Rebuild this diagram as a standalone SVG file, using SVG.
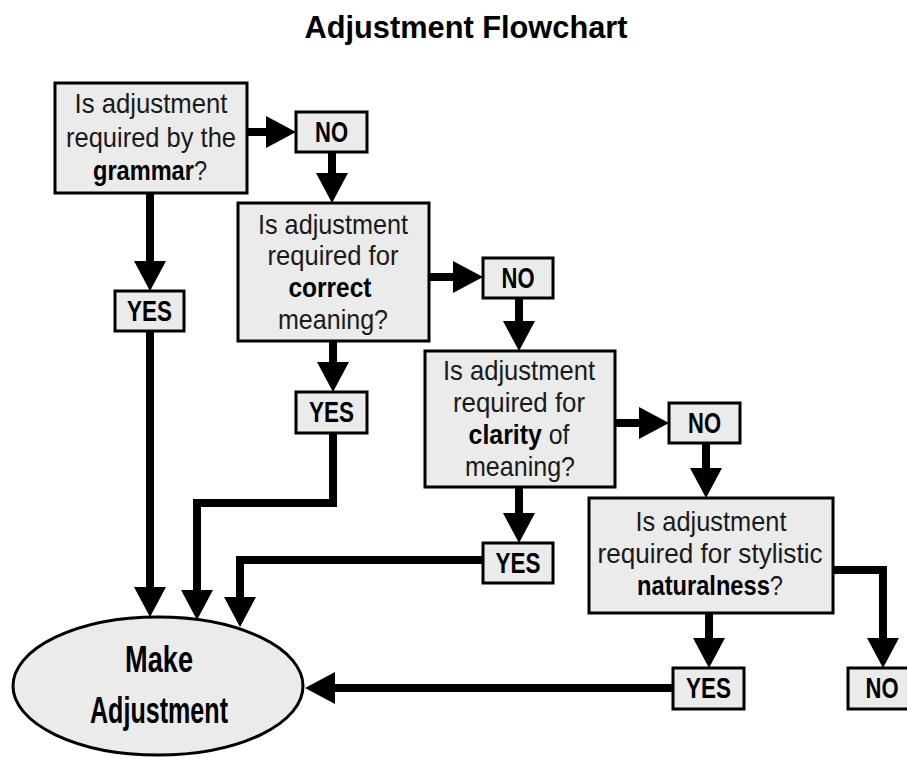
<svg xmlns="http://www.w3.org/2000/svg" width="907" height="758" viewBox="0 0 907 758">
<style>
.box{fill:#ebebeb;stroke:#000;stroke-width:3}
.t{font-family:"Liberation Sans",Arial,sans-serif;font-size:28px;fill:#1a1a1a;text-anchor:middle}
.b{font-weight:bold;fill:#000}
.lbl{font-family:"Liberation Sans",Arial,sans-serif;font-size:29px;font-weight:bold;fill:#000;text-anchor:middle}
.title{font-family:"Liberation Sans",Arial,sans-serif;font-size:31px;font-weight:bold;fill:#000;text-anchor:middle}
.big{font-family:"Liberation Sans",Arial,sans-serif;font-size:37px;font-weight:bold;fill:#000;text-anchor:middle}
.c{fill:none;stroke:#000;stroke-width:8;stroke-linejoin:miter;stroke-linecap:butt;marker-end:url(#ah)}
</style>
<defs>
<marker id="ah" markerUnits="userSpaceOnUse" markerWidth="30" markerHeight="32" refX="4" refY="16" orient="auto" overflow="visible">
<path d="M0,0 L30,16 L0,32 Z" fill="#000"/>
</marker>
</defs>
<rect width="907" height="758" fill="#fff"/>
<text class="title" x="466" y="38" textLength="323" lengthAdjust="spacingAndGlyphs">Adjustment Flowchart</text>

<g id="connectors">
<path class="c" d="M247,132 H270"/>
<path class="c" d="M332,152 V177"/>
<path class="c" d="M150,193 V265"/>
<path class="c" d="M150,331 V591"/>
<path class="c" d="M429,277 H457"/>
<path class="c" d="M333,341 V366"/>
<path class="c" d="M333,433 V503 H197 V594"/>
<path class="c" d="M519,298 V325"/>
<path class="c" d="M615,423 H643"/>
<path class="c" d="M519,487 V517"/>
<path class="c" d="M483,560 H240 V601"/>
<path class="c" d="M706,443 V472"/>
<path class="c" d="M709,613 V642"/>
<path class="c" d="M833,570 H883 V642"/>
<path class="c" d="M673,688 H331"/>
</g>

<g id="q1">
<rect class="box" x="55" y="83" width="192" height="110"/>
<text class="t" x="151" y="113" textLength="153" lengthAdjust="spacingAndGlyphs">Is adjustment</text>
<text class="t" x="151" y="147" textLength="170" lengthAdjust="spacingAndGlyphs">required by the</text>
<text class="t" transform="translate(150,180) scale(0.842,1)"><tspan class="b">grammar</tspan>?</text>
</g>
<g id="no1">
<rect class="box" x="296" y="112" width="71" height="40"/>
<text class="lbl" x="331.5" y="142" textLength="33" lengthAdjust="spacingAndGlyphs">NO</text>
</g>
<g id="yes1">
<rect class="box" x="115" y="291" width="69" height="40"/>
<text class="lbl" x="149.5" y="321" textLength="45" lengthAdjust="spacingAndGlyphs">YES</text>
</g>

<g id="q2">
<rect class="box" x="238" y="203" width="191" height="138"/>
<text class="t" x="333" y="234" textLength="150" lengthAdjust="spacingAndGlyphs">Is adjustment</text>
<text class="t" x="333" y="265" textLength="131" lengthAdjust="spacingAndGlyphs">required for</text>
<text class="t b" x="330" y="297" textLength="83" lengthAdjust="spacingAndGlyphs">correct</text>
<text class="t" x="333" y="329" textLength="110" lengthAdjust="spacingAndGlyphs">meaning?</text>
</g>
<g id="no2">
<rect class="box" x="483" y="258" width="70" height="40"/>
<text class="lbl" x="518" y="288" textLength="33" lengthAdjust="spacingAndGlyphs">NO</text>
</g>
<g id="yes2">
<rect class="box" x="296" y="392" width="71" height="41"/>
<text class="lbl" x="331.5" y="422" textLength="45" lengthAdjust="spacingAndGlyphs">YES</text>
</g>

<g id="q3">
<rect class="box" x="425" y="351" width="190" height="136"/>
<text class="t" x="519" y="380" textLength="152" lengthAdjust="spacingAndGlyphs">Is adjustment</text>
<text class="t" x="519" y="412" textLength="132" lengthAdjust="spacingAndGlyphs">required for</text>
<text class="t" transform="translate(519,444) scale(0.887,1)"><tspan class="b">clarity</tspan> of</text>
<text class="t" x="520" y="476" textLength="110" lengthAdjust="spacingAndGlyphs">meaning?</text>
</g>
<g id="no3">
<rect class="box" x="669" y="403" width="71" height="40"/>
<text class="lbl" x="704.5" y="433" textLength="33" lengthAdjust="spacingAndGlyphs">NO</text>
</g>
<g id="yes3">
<rect class="box" x="483" y="543" width="70" height="40"/>
<text class="lbl" x="518" y="573" textLength="45" lengthAdjust="spacingAndGlyphs">YES</text>
</g>

<g id="q4">
<rect class="box" x="589" y="498" width="244" height="115"/>
<text class="t" x="711" y="531" textLength="151" lengthAdjust="spacingAndGlyphs">Is adjustment</text>
<text class="t" x="710" y="563" textLength="225" lengthAdjust="spacingAndGlyphs">required for stylistic</text>
<text class="t" transform="translate(710,595) scale(0.845,1)"><tspan class="b">naturalness</tspan>?</text>
</g>
<g id="yes4">
<rect class="box" x="673" y="668" width="71" height="41"/>
<text class="lbl" x="708.5" y="698" textLength="45" lengthAdjust="spacingAndGlyphs">YES</text>
</g>
<g id="no4">
<rect class="box" x="848" y="668" width="70" height="41"/>
<text class="lbl" transform="translate(882,698) scale(0.76,1)">NO</text>
</g>

<g id="make">
<ellipse cx="158" cy="686" rx="145" ry="69" fill="#ebebeb" stroke="#000" stroke-width="3"/>
<text class="big" x="159" y="672" textLength="68" lengthAdjust="spacingAndGlyphs">Make</text>
<text class="big" x="159" y="723" textLength="138" lengthAdjust="spacingAndGlyphs">Adjustment</text>
</g>
</svg>
